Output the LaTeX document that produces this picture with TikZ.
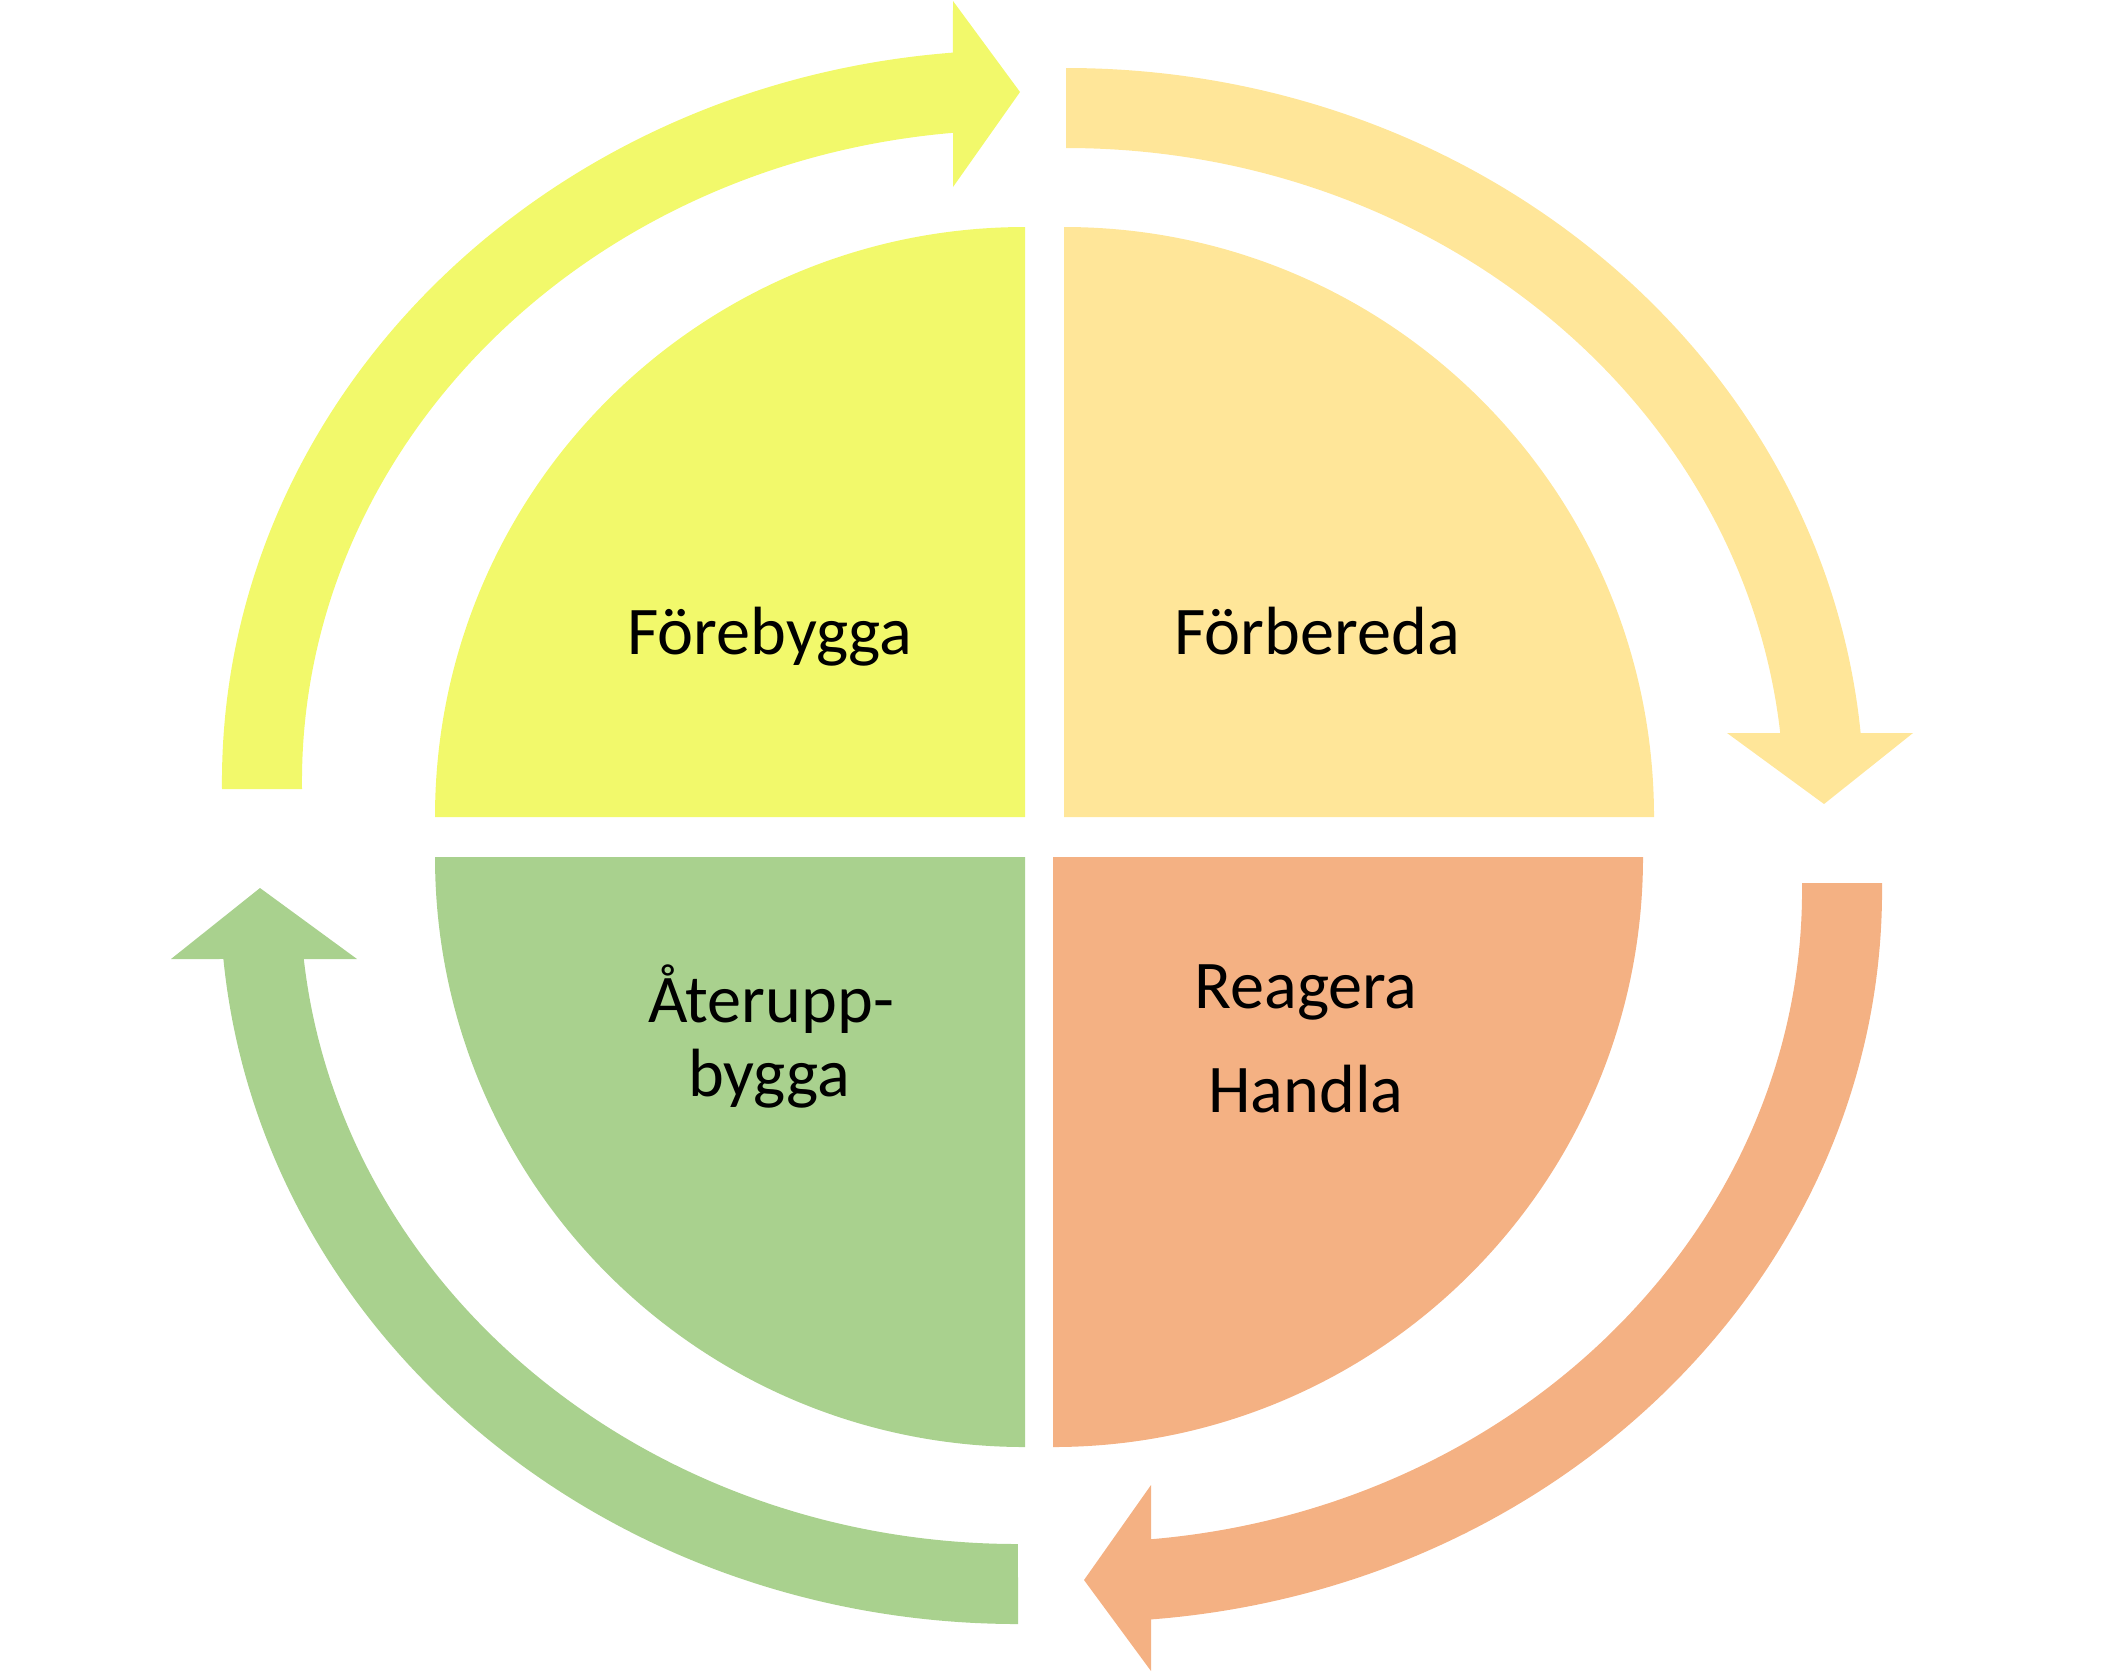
\documentclass[tikz,border=0pt]{standalone}
\usepackage{fontspec}
\setmainfont{Carlito}
\definecolor{cyel}{HTML}{F2F96B}
\definecolor{cgold}{HTML}{FFE699}
\definecolor{corg}{HTML}{F4B183}
\definecolor{cgrn}{HTML}{A9D18E}
\tikzset{lbl/.style={font=\fontsize{19.4}{23}\selectfont, anchor=base, inner sep=0pt, text=black}}
\begin{document}
\begin{tikzpicture}[x=0.01cm,y=0.01cm]
\useasboundingbox (0,0) rectangle (2101,-1672);
% quarter discs
\fill[cyel]  (1025,-817) -- (435,-817) arc[start angle=180,end angle=90,radius=590] -- cycle;
\fill[cgold] (1064,-817) -- (1064,-227) arc[start angle=90,end angle=0,radius=590] -- cycle;
\fill[corg]  (1053,-857) -- (1643,-857) arc[start angle=0,end angle=-90,radius=590] -- cycle;
\fill[cgrn]  (1025,-857) -- (1025,-1447) arc[start angle=270,end angle=180,radius=590] -- cycle;
% circular arrows
\fill[cyel] (222.0,-789.0) arc[start angle=180.55, end angle=94.82, x radius=798, y radius=732]
  -- (953,-1) -- (1020,-92) -- (953,-187) -- (953,-132.8)
  arc[start angle=95.35, end angle=180.62, x radius=718, y radius=652] -- cycle;
\fill[cgold] (1066,-68) arc[start angle=90, end angle=5.25, x radius=798, y radius=732]
  -- (1913,-733) -- (1824,-804) -- (1727,-733) -- (1780.2,-733)
  arc[start angle=5.90, end angle=90, x radius=718, y radius=652] -- cycle;
\fill[corg] (1882,-883) arc[start angle=0.55, end angle=-85.18, x radius=798, y radius=732]
  -- (1151,-1671) -- (1084,-1580) -- (1151,-1485) -- (1151,-1539.2)
  arc[start angle=-84.65, end angle=0.62, x radius=718, y radius=652] -- cycle;
\fill[cgrn] (1018,-1624) arc[start angle=270, end angle=185.25, x radius=798, y radius=732]
  -- (171,-959) -- (260,-888) -- (357,-959) -- (303.8,-959)
  arc[start angle=185.90, end angle=270, x radius=718, y radius=652] -- cycle;
% labels
\node[lbl] (tA) at (770,-654) {Förebygga};
\node[lbl] (tB) at (1317,-654) {Förbereda};
\node[lbl] (tC1) at (1306,-1008) {Reagera};
\node[lbl] (tC2) at (1306,-1112) {Handla};
\node[lbl] (tD1) at (771,-1022) {Återupp-};
\node[lbl] (tD2) at (769,-1096) {bygga};
\end{tikzpicture}
\end{document}
